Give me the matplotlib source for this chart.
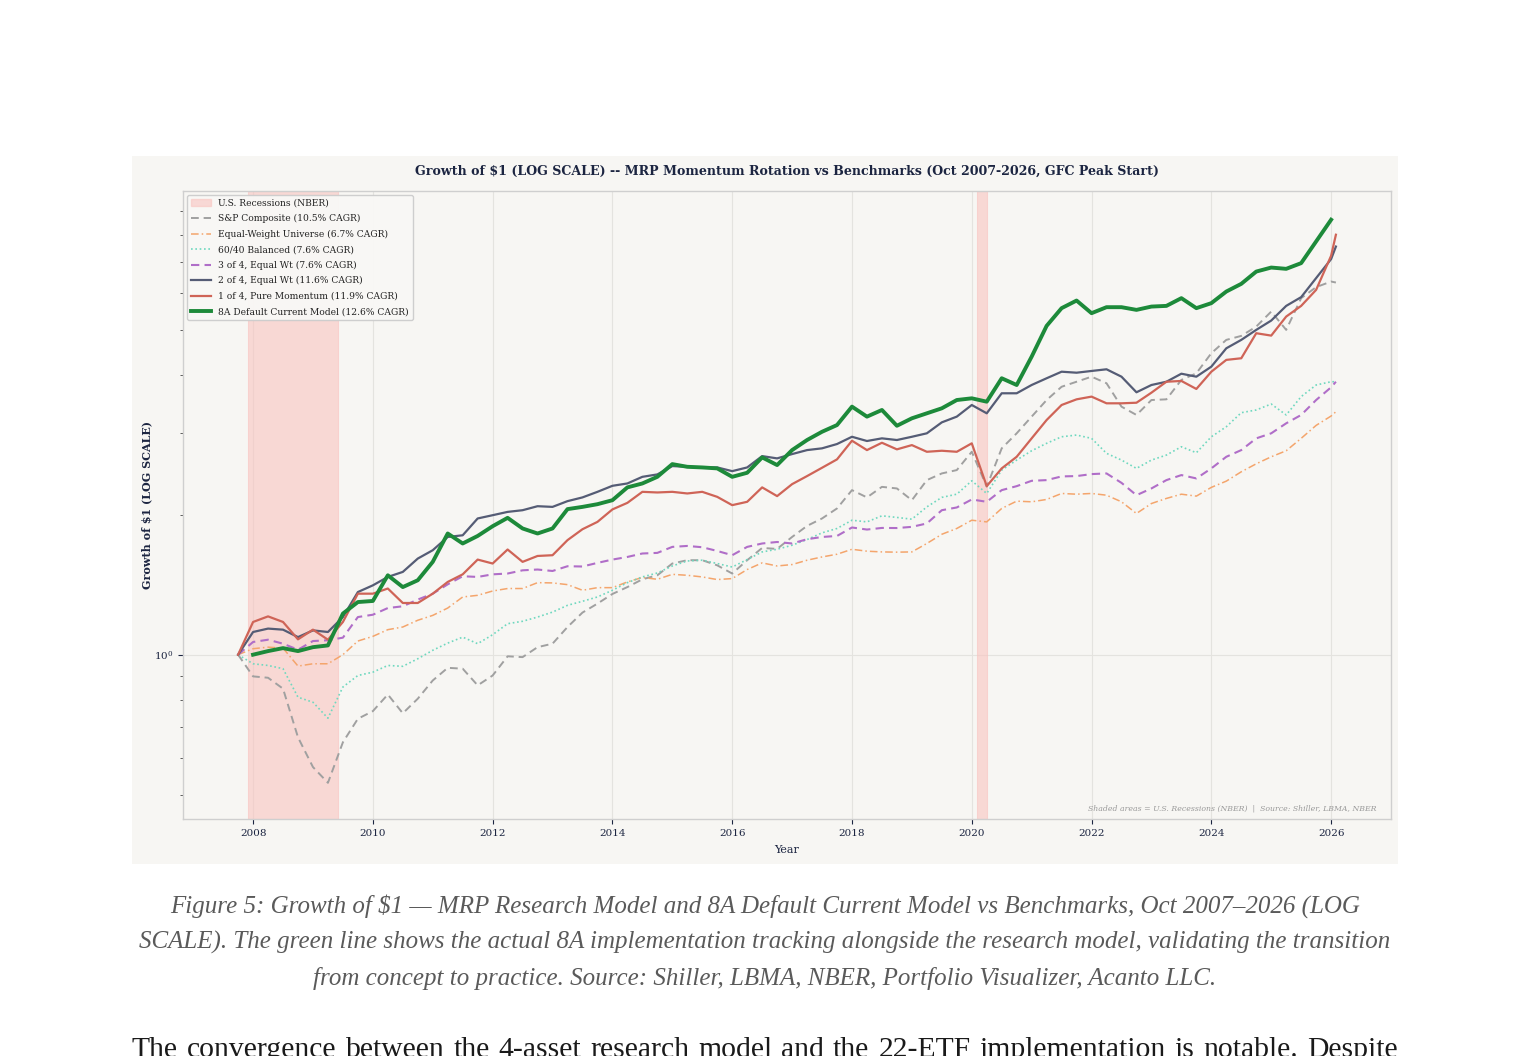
import numpy as np
import matplotlib
matplotlib.use('Agg')
import matplotlib.pyplot as plt
from matplotlib.patches import Rectangle, Patch
from matplotlib.lines import Line2D
from matplotlib.ticker import NullFormatter

# quarterly samples Oct 2007 .. Jan 2026, plus last month
years = list(np.arange(2007.75, 2026.01, 0.25)) + [2026.08]

sp_composite = [1.000, 0.898, 0.892, 0.845, 0.664, 0.573, 0.530, 0.648, 0.728, 0.756,
                0.821, 0.748, 0.804, 0.880, 0.937, 0.933, 0.859, 0.902, 0.992, 0.988,
                1.038, 1.056, 1.147, 1.232, 1.288, 1.351, 1.398, 1.453, 1.482, 1.571,
                1.597, 1.597, 1.557, 1.495, 1.597, 1.697, 1.689, 1.792, 1.893,
                1.964, 2.064, 2.260, 2.180, 2.297, 2.279, 2.150, 2.375, 2.455, 2.496,
                2.733, 2.300, 2.780, 2.995, 3.253, 3.532, 3.772, 3.867, 3.965,
                3.838, 3.418, 3.280, 3.532, 3.544, 3.902, 4.032, 4.454, 4.758, 4.853,
                5.082, 5.475, 5.000, 5.851, 6.180, 6.353, 6.322]

equal_weight = [1.000, 1.030, 1.038, 1.033, 0.945, 0.956, 0.956, 1.000, 1.070, 1.095,
                1.132, 1.147, 1.186, 1.215, 1.260, 1.331, 1.342, 1.371, 1.388, 1.388,
                1.429, 1.427, 1.415, 1.376, 1.394, 1.394, 1.434, 1.466, 1.453, 1.489,
                1.482, 1.470, 1.451, 1.458, 1.525, 1.576, 1.552, 1.563, 1.597,
                1.623, 1.645, 1.686, 1.670, 1.664, 1.662, 1.664, 1.735, 1.816, 1.869,
                1.947, 1.931, 2.064, 2.140, 2.133, 2.158, 2.223, 2.215, 2.223,
                2.204, 2.133, 2.013, 2.115, 2.169, 2.215, 2.194, 2.291, 2.363, 2.475,
                2.575, 2.666, 2.747, 2.921, 3.115, 3.263, 3.333]

balanced_6040 = [1.000, 0.956, 0.948, 0.933, 0.810, 0.790, 0.730, 0.852, 0.902, 0.917,
                 0.948, 0.944, 0.980, 1.022, 1.059, 1.091, 1.056, 1.104, 1.166, 1.180,
                 1.205, 1.235, 1.277, 1.303, 1.331, 1.376, 1.429, 1.470, 1.499, 1.552,
                 1.591, 1.597, 1.571, 1.544, 1.602, 1.664, 1.686, 1.720, 1.769,
                 1.829, 1.869, 1.947, 1.931, 1.990, 1.974, 1.957, 2.080, 2.180, 2.215,
                 2.367, 2.223, 2.496, 2.623, 2.747, 2.850, 2.944, 2.969, 2.921,
                 2.712, 2.623, 2.517, 2.623, 2.689, 2.802, 2.720, 2.944, 3.094, 3.317,
                 3.362, 3.463, 3.280, 3.592, 3.805, 3.867, 3.867]

three_of_four = [1.000, 1.065, 1.077, 1.056, 1.025, 1.070, 1.074, 1.088, 1.205, 1.219,
                 1.260, 1.271, 1.314, 1.353, 1.417, 1.475, 1.470, 1.489, 1.495, 1.519,
                 1.525, 1.514, 1.550, 1.548, 1.576, 1.602, 1.623, 1.651, 1.656, 1.706,
                 1.714, 1.703, 1.672, 1.637, 1.706, 1.735, 1.748, 1.735, 1.772,
                 1.792, 1.801, 1.878, 1.859, 1.874, 1.873, 1.884, 1.916, 2.046, 2.074,
                 2.158, 2.133, 2.260, 2.305, 2.367, 2.375, 2.419, 2.423, 2.447,
                 2.455, 2.343, 2.204, 2.279, 2.375, 2.435, 2.395, 2.517, 2.666, 2.756,
                 2.921, 2.995, 3.147, 3.280, 3.532, 3.762, 3.867]

two_of_four = [1.000, 1.119, 1.138, 1.132, 1.091, 1.128, 1.119, 1.205, 1.364, 1.410,
               1.470, 1.507, 1.610, 1.678, 1.792, 1.807, 1.964, 1.996, 2.029, 2.046,
               2.087, 2.080, 2.140, 2.180, 2.241, 2.309, 2.336, 2.414, 2.443, 2.546,
               2.537, 2.529, 2.529, 2.483, 2.529, 2.675, 2.645, 2.702, 2.756,
               2.780, 2.840, 2.944, 2.883, 2.921, 2.897, 2.944, 2.995, 3.162, 3.253,
               3.446, 3.307, 3.652, 3.652, 3.805, 3.934, 4.064, 4.044, 4.079,
               4.113, 3.965, 3.670, 3.805, 3.867, 4.024, 3.965, 4.167, 4.564, 4.758,
               5.000, 5.236, 5.631, 5.881, 6.463, 7.101, 7.555]

one_of_four = [1.000, 1.176, 1.209, 1.176, 1.079, 1.132, 1.077, 1.176, 1.353, 1.353,
               1.388, 1.292, 1.292, 1.353, 1.434, 1.489, 1.602, 1.571, 1.684, 1.584,
               1.631, 1.637, 1.764, 1.862, 1.931, 2.054, 2.122, 2.241, 2.234, 2.241,
               2.223, 2.241, 2.186, 2.098, 2.133, 2.291, 2.194, 2.328, 2.423,
               2.525, 2.632, 2.887, 2.756, 2.858, 2.766, 2.825, 2.733, 2.747, 2.733,
               2.850, 2.305, 2.517, 2.666, 2.921, 3.199, 3.446, 3.544, 3.592,
               3.475, 3.475, 3.485, 3.663, 3.867, 3.882, 3.731, 4.064, 4.309, 4.344,
               4.918, 4.860, 5.341, 5.631, 6.097, 7.219, 8.012]

# 8A model starts Jan 2008 and ends Jan 2026
model_8a = [np.nan, 1.000, 1.018, 1.033, 1.018, 1.038, 1.047, 1.226, 1.298, 1.305,
            1.482, 1.398, 1.446, 1.584, 1.823, 1.735, 1.801, 1.890, 1.970, 1.869,
            1.823, 1.869, 2.057, 2.080, 2.108, 2.150, 2.291, 2.336, 2.414, 2.571,
            2.537, 2.529, 2.517, 2.414, 2.463, 2.658, 2.559, 2.756, 2.897,
            3.018, 3.120, 3.418, 3.253, 3.362, 3.109, 3.226, 3.307, 3.390, 3.532,
            3.562, 3.503, 3.934, 3.805, 4.379, 5.100, 5.568, 5.782, 5.431,
            5.595, 5.595, 5.521, 5.612, 5.631, 5.851, 5.568, 5.708, 6.046, 6.281,
            6.675, 6.809, 6.766, 6.960, 7.750, 8.630, np.nan]

recessions = [(2007.917, 2009.417), (2020.083, 2020.25)]

W, H = 1530, 1056
bg = '#f7f6f3'
ink = '#1c2541'
shade = '#f9c4c0'

fig = plt.figure(figsize=(W / 100, H / 100), dpi=100, facecolor='white')
plt.rcParams['font.family'] = ['DejaVu Serif']

# grey panel behind the chart
fig.add_artist(Rectangle((132 / W, 1 - 864 / H), (1398 - 132) / W, (864 - 156) / H,
                         transform=fig.transFigure, facecolor=bg, edgecolor='none', zorder=0))

ax = fig.add_axes([183 / W, 1 - 819 / H, (1391 - 183) / W, (819 - 191) / H])
ax.set_facecolor(bg)

for a, b in recessions:
    ax.axvspan(a, b, facecolor=shade, edgecolor=shade, alpha=0.6, lw=0.8, zorder=1)

ax.plot(years, sp_composite, color='#a0a0a0', ls=(0, (4, 2.5)), lw=1.4, zorder=3)
ax.plot(years, equal_weight, color='#f4a56c', ls=(0, (5, 2, 1, 2)), lw=1.1, zorder=3)
ax.plot(years, balanced_6040, color='#6fd8bf', ls=(0, (1, 1.6)), lw=1.2, zorder=3)
ax.plot(years, three_of_four, color='#b06ec8', ls=(0, (4, 2.5)), lw=1.5, zorder=4)
ax.plot(years, two_of_four, color='#555c75', lw=1.6, zorder=5)
ax.plot(years, one_of_four, color='#cf6457', lw=1.6, zorder=5)
ax.plot(years, model_8a, color='#1d8a3a', lw=2.8, zorder=6)

ax.set_yscale('log')
ax.set_xlim(2006.83, 2027.0)
ax.set_ylim(0.443, 9.95)
ax.yaxis.set_minor_formatter(NullFormatter())
ax.set_xticks([2008, 2010, 2012, 2014, 2016, 2018, 2020, 2022, 2024, 2026])

ax.grid(True, which='major', color='#e4e3df', lw=0.8, zorder=0)
ax.set_axisbelow(True)
for s in ax.spines.values():
    s.set_color('#cfcfcf')
    s.set_linewidth(1.0)
ax.tick_params(axis='both', which='major', labelsize=7.5, colors=ink, length=3.5, width=0.8)
ax.tick_params(axis='y', which='minor', colors='#444444', length=2, width=0.6)
for lbl in ax.get_xticklabels() + ax.get_yticklabels():
    lbl.set_color(ink)

ax.set_title('Growth of $1 (LOG SCALE) -- MRP Momentum Rotation vs Benchmarks '
             '(Oct 2007-2026, GFC Peak Start)', fontsize=9.1, fontweight='bold',
             color=ink, pad=12)
ax.set_xlabel('Year', fontsize=8, color=ink, labelpad=5)
ax.set_ylabel('Growth of $1 (LOG SCALE)', fontsize=8, fontweight='bold', color=ink, labelpad=1)

ax.text(0.988, 0.01, 'Shaded areas = U.S. Recessions (NBER)  |  Source: Shiller, LBMA, NBER',
        transform=ax.transAxes, ha='right', va='bottom', fontsize=5.6, style='italic',
        color='#9a9a9a')

handles = [
    Patch(facecolor=shade, edgecolor=shade, alpha=0.6, label='U.S. Recessions (NBER)'),
    Line2D([], [], color='#a0a0a0', ls=(0, (4, 2.5)), lw=1.4, label='S&P Composite (10.5% CAGR)'),
    Line2D([], [], color='#f4a56c', ls=(0, (5, 2, 1, 2)), lw=1.1,
           label='Equal-Weight Universe (6.7% CAGR)'),
    Line2D([], [], color='#6fd8bf', ls=(0, (1, 1.6)), lw=1.2, label='60/40 Balanced (7.6% CAGR)'),
    Line2D([], [], color='#b06ec8', ls=(0, (4, 2.5)), lw=1.5, label='3 of 4, Equal Wt (7.6% CAGR)'),
    Line2D([], [], color='#555c75', lw=1.6, label='2 of 4, Equal Wt (11.6% CAGR)'),
    Line2D([], [], color='#cf6457', lw=1.6, label='1 of 4, Pure Momentum (11.9% CAGR)'),
    Line2D([], [], color='#1d8a3a', lw=2.8, label='8A Default Current Model (12.6% CAGR)'),
]
leg = ax.legend(handles=handles, loc='upper left', fontsize=6.6, frameon=True,
                facecolor='#f9f8f6', edgecolor='#cccccc', framealpha=0.95,
                handlelength=2.2, labelspacing=0.70, borderaxespad=0.45, fancybox=True)
for t in leg.get_texts():
    t.set_color('#222222')

# caption under the figure
caption = ['Figure 5: Growth of $1 \u2014 MRP Research Model and 8A Default Current Model vs '
           'Benchmarks, Oct 2007\u20132026 (LOG',
           'SCALE). The green line shows the actual 8A implementation tracking alongside the '
           'research model, validating the transition',
           'from concept to practice. Source: Shiller, LBMA, NBER, Portfolio Visualizer, Acanto LLC.']
for i, line in enumerate(caption):
    fig.text(765 / W, 1 - (906 + 36 * i) / H, line, ha='center', va='center',
             fontsize=18.0, style='italic', color='#5a5a5a', family='Liberation Serif')

# first line of the body paragraph, justified across the page column
body = ('The convergence between the 4-asset research model and the 22-ETF implementation '
        'is notable. Despite')
words = body.split()
renderer = fig.canvas.get_renderer()
widths = []
for w in words:
    t = fig.text(0, 0, w, fontsize=21.3, family='Liberation Serif')
    widths.append(t.get_window_extent(renderer).width)
    t.remove()
gap = (1398 - 132 - sum(widths)) / (len(words) - 1)
x = 132.0
for w, wd in zip(words, widths):
    fig.text(x / W, 1 - 1057 / H, w, ha='left', va='baseline', fontsize=21.3,
             color='#1a1a1a', family='Liberation Serif')
    x += wd + gap

fig.savefig('out.png', dpi=100, facecolor='white')
